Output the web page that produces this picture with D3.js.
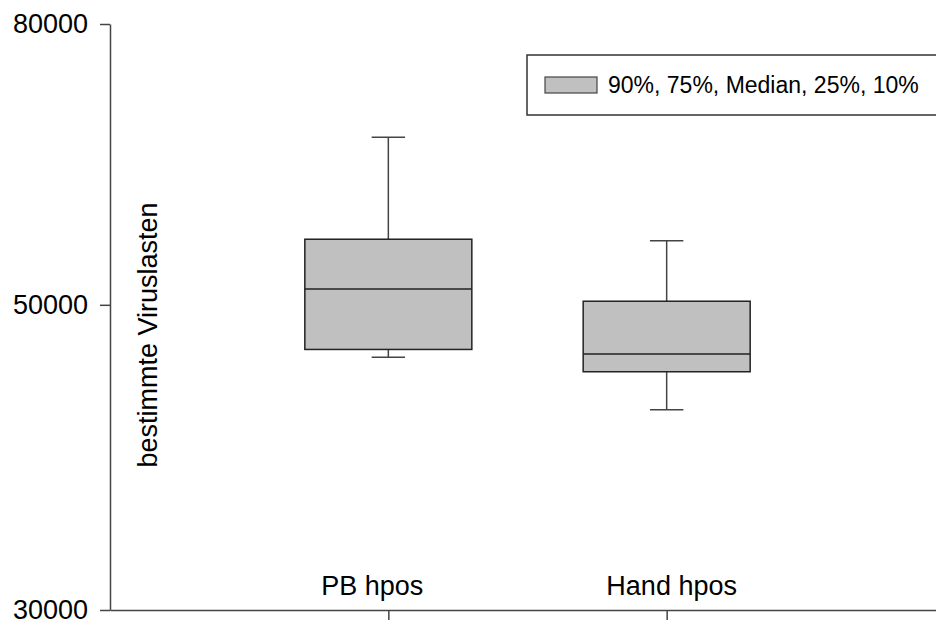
<!DOCTYPE html>
<html>
<head>
<meta charset="utf-8">
<script src="https://cdn.jsdelivr.net/npm/d3@7/dist/d3.min.js"></script>
<style>
  body { margin: 0; background: #fff; }
  text { font-family: "Liberation Sans", Arial, sans-serif; }
</style>
</head>
<body>
<div id="container"></div>
<script>
// values (log axis)
let categories = ["PB hpos", "Hand hpos"];
let p10 = [45800, 41950];
let p25 = [46400, 44700];
let median = [51350, 46050];
let p75 = [55800, 50300];
let p90 = [66200, 55650];
let yTicks = [30000, 50000, 80000];

let w = 936;
let h = 620;

let viz = d3.select('#container').append('svg')
    .attr('width', w)
    .attr('height', h);

let y = d3.scaleLog().domain([30000, 80000]).range([610, 24]);
let x = d3.scaleLinear().domain([0, 3]).range([110, 945]);
let boxW = (x(1) - x(0)) * 0.6;
let capW = (x(1) - x(0)) * 0.12;

// y axis
let yAxis = viz.append('g')
    .attr('transform', 'translate(110,0)')
    .call(d3.axisLeft(y).tickValues(yTicks).tickFormat(d3.format('d'))
        .tickSize(10).tickPadding(12).tickSizeOuter(0));
yAxis.select('.domain').attr('stroke', '#444').attr('stroke-width', 1.5);
yAxis.selectAll('.tick line').attr('stroke', '#444').attr('stroke-width', 1.5);
yAxis.selectAll('.tick text')
    .attr('font-size', '27px')
    .attr('font-family', '"Liberation Sans", Arial, sans-serif')
    .attr('fill', '#000');

// x axis
let xAxis = viz.append('g')
    .attr('transform', 'translate(0,610)')
    .call(d3.axisBottom(x).tickValues([1, 2]).tickFormat('')
        .tickSize(10).tickSizeOuter(0));
xAxis.select('.domain').attr('stroke', '#444').attr('stroke-width', 1.5);
xAxis.selectAll('.tick line').attr('stroke', '#444').attr('stroke-width', 1.5);

// category labels sit inside the plot, just above the axis
let labelShift = [-16, 5];
viz.selectAll('.cat')
    .data(categories)
    .enter().append('text')
    .attr('class', 'cat')
    .text(d => d)
    .attr('x', (d, i) => x(i + 1) + labelShift[i])
    .attr('y', 595)
    .attr('text-anchor', 'middle')
    .attr('font-size', '27px')
    .attr('fill', '#000');

// y label
viz.append('text')
    .text('bestimmte Viruslasten')
    .attr('transform', 'translate(157,335) rotate(-90)')
    .attr('text-anchor', 'middle')
    .attr('font-size', '27px')
    .attr('fill', '#000');

// boxes
let idx = d3.range(categories.length);
let boxes = viz.selectAll('.box')
    .data(idx)
    .enter().append('g')
    .attr('class', 'box');

// whiskers
boxes.append('line')
    .attr('x1', i => x(i + 1)).attr('x2', i => x(i + 1))
    .attr('y1', i => y(p90[i])).attr('y2', i => y(p75[i]))
    .attr('stroke', '#444').attr('stroke-width', 1.5);
boxes.append('line')
    .attr('x1', i => x(i + 1)).attr('x2', i => x(i + 1))
    .attr('y1', i => y(p25[i])).attr('y2', i => y(p10[i]))
    .attr('stroke', '#444').attr('stroke-width', 1.5);
boxes.append('line')
    .attr('x1', i => x(i + 1) - capW / 2).attr('x2', i => x(i + 1) + capW / 2)
    .attr('y1', i => y(p90[i])).attr('y2', i => y(p90[i]))
    .attr('stroke', '#444').attr('stroke-width', 1.5);
boxes.append('line')
    .attr('x1', i => x(i + 1) - capW / 2).attr('x2', i => x(i + 1) + capW / 2)
    .attr('y1', i => y(p10[i])).attr('y2', i => y(p10[i]))
    .attr('stroke', '#444').attr('stroke-width', 1.5);

boxes.append('rect')
    .attr('x', i => x(i + 1) - boxW / 2)
    .attr('width', boxW)
    .attr('y', i => y(p75[i]))
    .attr('height', i => y(p25[i]) - y(p75[i]))
    .attr('fill', '#c0c0c0')
    .attr('stroke', '#222')
    .attr('stroke-width', 1.5);
boxes.append('line')
    .attr('x1', i => x(i + 1) - boxW / 2).attr('x2', i => x(i + 1) + boxW / 2)
    .attr('y1', i => y(median[i])).attr('y2', i => y(median[i]))
    .attr('stroke', '#222').attr('stroke-width', 1.5);

// legend
viz.append('rect')
    .attr('x', 527).attr('y', 55)
    .attr('width', 420).attr('height', 60)
    .attr('fill', '#fff')
    .attr('stroke', '#333').attr('stroke-width', 1.5);
viz.append('rect')
    .attr('x', 545).attr('y', 77)
    .attr('width', 52).attr('height', 16)
    .attr('fill', '#c0c0c0')
    .attr('stroke', '#444').attr('stroke-width', 1.2);
viz.append('text')
    .text('90%, 75%, Median, 25%, 10%')
    .attr('x', 608).attr('y', 93)
    .attr('font-size', '23px')
    .attr('fill', '#000');
</script>
</body>
</html>
